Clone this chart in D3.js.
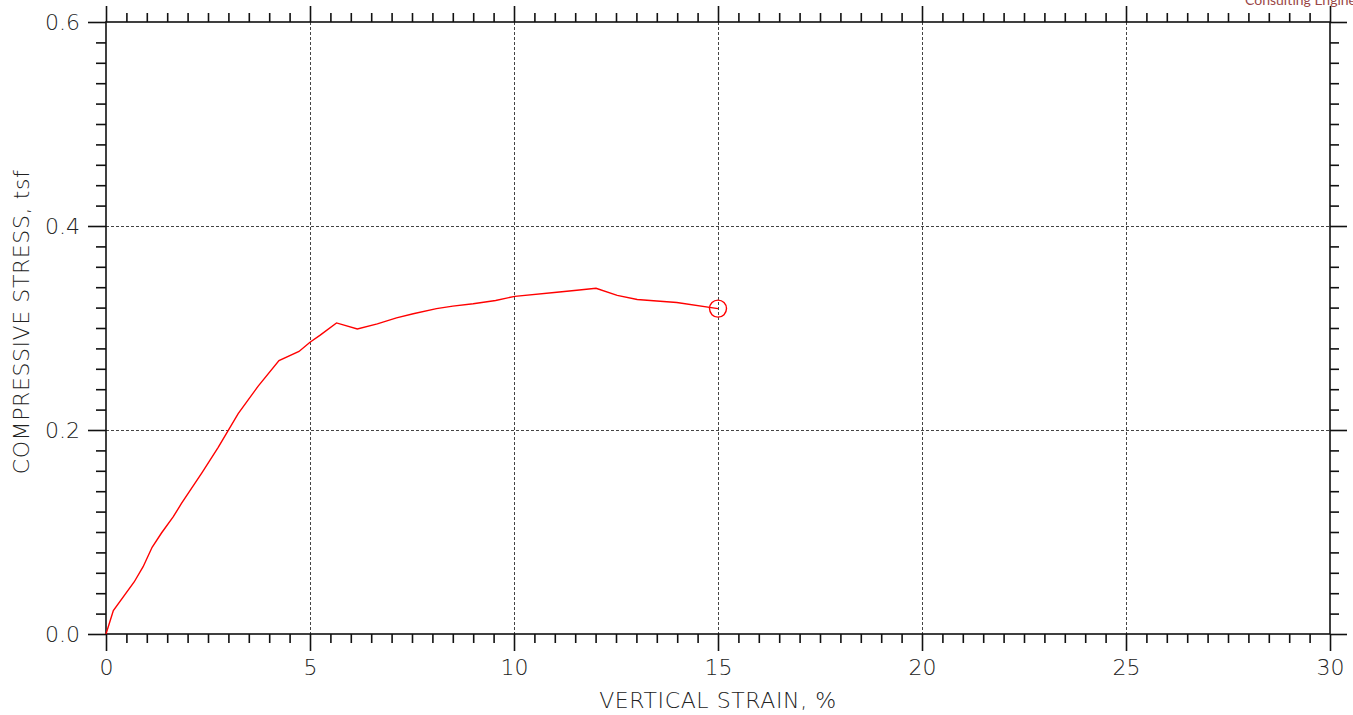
<!DOCTYPE html>
<html>
<head>
<meta charset="utf-8">
<script src="https://cdn.jsdelivr.net/npm/d3@7"></script>
<style>
  html, body { margin: 0; padding: 0; background: #fff; }
  svg { display: block; }
  .tick text { font-family: "DejaVu Sans", sans-serif; font-weight: 200; }
</style>
</head>
<body>
<svg id="chart" width="1353" height="715"></svg>
<script>
// ---- data ----
const strain = [0, 0.18, 0.69, 0.91, 1.13, 1.36, 1.65, 1.85, 2.35, 2.75, 3.24, 3.73, 4.24, 4.73, 5.0, 5.25, 5.65, 6.16, 6.65, 7.12, 7.53, 8.1, 8.5, 9.0, 9.55, 10.02, 11.05, 11.54, 12.01, 12.53, 13.02, 13.5, 13.99, 15.0];
const stress = [0, 0.023, 0.051, 0.066, 0.085, 0.099, 0.115, 0.128, 0.158, 0.183, 0.216, 0.243, 0.268, 0.277, 0.286, 0.293, 0.305, 0.299, 0.304, 0.31, 0.314, 0.319, 0.3215, 0.3238, 0.327, 0.331, 0.335, 0.337, 0.339, 0.332, 0.328, 0.3265, 0.325, 0.319];
const failureStrain = [15.0];
const failureStress = [0.319];
const xMajorTicks = [0, 5, 10, 15, 20, 25, 30];
const yMajorTicks = [0.0, 0.2, 0.4, 0.6];
const xGrid = [5, 10, 15, 20, 25];
const yGrid = [0.2, 0.4];
const xTitle = "VERTICAL STRAIN, %";
const yTitle = "COMPRESSIVE STRESS, tsf";
const watermark = "Consulting Engineers";

// ---- layout ----
const L = 106, R = 1330, T = 22, B = 634;
const svg = d3.select("#chart");
const x = d3.scaleLinear().domain([0, 30]).range([L, R]);
const y = d3.scaleLinear().domain([0, 0.6]).range([B, T]);

const xMinor = d3.range(0, 30.001, 0.5).filter(v => Math.abs(v % 5) > 1e-6 && Math.abs(v % 5 - 5) > 1e-6);
const yMinor = d3.range(0, 0.6001, 0.02).filter(v => { const r = Math.round(v * 100) % 20; return r !== 0; });

// watermark text (partly outside the top edge, as in the reference)
svg.append("text").attr("x", 1245).attr("y", 5)
  .attr("font-family", "Lato, 'Open Sans', sans-serif").attr("font-size", 14)
  .attr("fill", "#9a4646").text(watermark);

// grid
const grid = svg.append("g").attr("stroke", "#444").attr("stroke-width", 1).attr("stroke-dasharray", "3,2");
grid.selectAll(".gx").data(xGrid).join("line")
  .attr("x1", d => x(d) + 0.5).attr("x2", d => x(d) + 0.5).attr("y1", T).attr("y2", B);
grid.selectAll(".gy").data(yGrid).join("line")
  .attr("y1", d => y(d) + 0.5).attr("y2", d => y(d) + 0.5).attr("x1", L).attr("x2", R);

function styleAxis(g) {
  g.select(".domain").remove();
  g.selectAll(".tick line").attr("stroke", "#111").attr("stroke-width", 1.6);
}

// minor ticks
svg.append("g").attr("transform", `translate(0,${B})`)
  .call(d3.axisBottom(x).tickValues(xMinor).tickSize(9).tickFormat("")).call(styleAxis);
svg.append("g").attr("transform", `translate(0,${T})`)
  .call(d3.axisTop(x).tickValues(xMinor).tickSize(9).tickFormat("")).call(styleAxis);
svg.append("g").attr("transform", `translate(${L},0)`)
  .call(d3.axisLeft(y).tickValues(yMinor).tickSize(10).tickFormat("")).call(styleAxis);
svg.append("g").attr("transform", `translate(${R},0)`)
  .call(d3.axisRight(y).tickValues(yMinor).tickSize(9).tickFormat("")).call(styleAxis);

// major ticks
const xb = svg.append("g").attr("transform", `translate(0,${B})`)
  .call(d3.axisBottom(x).tickValues(xMajorTicks).tickSize(17).tickPadding(8).tickFormat(d3.format("d"))).call(styleAxis);
xb.selectAll(".tick text").attr("font-size", 22).attr("fill", "#222");
svg.append("g").attr("transform", `translate(0,${T})`)
  .call(d3.axisTop(x).tickValues(xMajorTicks).tickSize(16).tickFormat("")).call(styleAxis);
const yl = svg.append("g").attr("transform", `translate(${L},0)`)
  .call(d3.axisLeft(y).tickValues(yMajorTicks).tickSize(18).tickPadding(8).tickFormat(d3.format(".1f"))).call(styleAxis);
yl.selectAll(".tick text").attr("font-size", 22).attr("fill", "#222");
svg.append("g").attr("transform", `translate(${R},0)`)
  .call(d3.axisRight(y).tickValues(yMajorTicks).tickSize(17).tickFormat("")).call(styleAxis);

// frame
svg.append("rect").attr("x", L).attr("y", T).attr("width", R - L).attr("height", B - T)
  .attr("fill", "none").attr("stroke", "#111").attr("stroke-width", 1.6);

// curve
const line = d3.line().x((d, i) => x(strain[i])).y((d, i) => y(stress[i]));
svg.append("path").datum(stress).attr("d", line)
  .attr("fill", "none").attr("stroke", "#ff0000").attr("stroke-width", 1.4);

// failure marker
svg.selectAll(".fail").data(failureStrain).join("circle")
  .attr("cx", d => x(d)).attr("cy", (d, i) => y(failureStress[i])).attr("r", 8.5)
  .attr("fill", "none").attr("stroke", "#ff0000").attr("stroke-width", 1.4);

// titles
svg.append("text").attr("x", 718).attr("y", 708).attr("text-anchor", "middle")
  .attr("font-family", "DejaVu Sans, sans-serif").attr("font-weight", 200).attr("font-size", 22)
  .attr("letter-spacing", 0.6).attr("fill", "#222").text(xTitle);
svg.append("text").attr("transform", `translate(29,322) rotate(-90)`).attr("text-anchor", "middle")
  .attr("font-family", "DejaVu Sans, sans-serif").attr("font-weight", 200).attr("font-size", 22)
  .attr("letter-spacing", 0.6).attr("fill", "#222").text(yTitle);
</script>
</body>
</html>
